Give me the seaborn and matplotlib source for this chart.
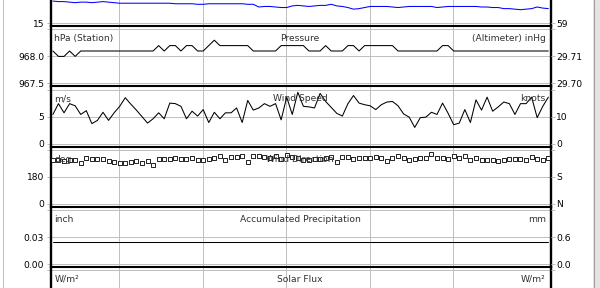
import numpy as np
import pandas as pd
import matplotlib
matplotlib.use("Agg")
import matplotlib.pyplot as plt
import seaborn as sns
from matplotlib.patches import Rectangle
from matplotlib.lines import Line2D

# ---------------- data ----------------
# observation times (hours), 24-minute sampling
obs_hours = np.round(1.25 + 0.4 * np.arange(90), 2)
grid_hours = [6, 12, 18, 24, 30]

temperature_c = [
    19.1, 19.0, 19.0, 18.9, 18.8, 18.9, 18.9, 18.8, 18.9, 19.0,
    18.9, 18.8, 18.7, 18.7, 18.7, 18.7, 18.7, 18.7, 18.7, 18.7,
    18.7, 18.7, 18.6, 18.6, 18.6, 18.6, 18.5, 18.5, 18.6, 18.6,
    18.6, 18.6, 18.6, 18.6, 18.6, 18.5, 18.5, 18.0, 18.1, 18.1,
    18.0, 17.9, 17.9, 18.2, 18.3, 18.2, 18.1, 18.2, 18.3, 18.3,
    18.5, 18.2, 18.1, 17.9, 17.6, 17.7, 17.9, 18.1, 18.1, 18.1,
    18.1, 18.0, 17.9, 18.0, 18.1, 18.1, 18.1, 18.1, 18.1, 17.9,
    18.0, 18.1, 18.1, 18.1, 18.1, 18.1, 18.1, 18.0, 18.0, 17.9,
    17.9, 17.7, 17.7, 17.6, 17.5, 17.6, 17.7, 18.0, 17.8, 17.7]

pressure_hpa = [
    968.1, 968.0, 968.0, 968.1, 968.0, 968.1, 968.1, 968.1, 968.1, 968.1,
    968.1, 968.1, 968.1, 968.1, 968.1, 968.1, 968.1, 968.1, 968.1, 968.2,
    968.1, 968.2, 968.2, 968.1, 968.2, 968.2, 968.1, 968.1, 968.2, 968.3,
    968.2, 968.2, 968.2, 968.2, 968.2, 968.2, 968.1, 968.1, 968.1, 968.1,
    968.1, 968.2, 968.2, 968.2, 968.2, 968.2, 968.1, 968.1, 968.1, 968.2,
    968.1, 968.1, 968.1, 968.2, 968.2, 968.1, 968.2, 968.2, 968.2, 968.2,
    968.2, 968.2, 968.1, 968.1, 968.1, 968.1, 968.1, 968.1, 968.1, 968.1,
    968.2, 968.2, 968.1, 968.1, 968.1, 968.1, 968.1, 968.1, 968.1, 968.1,
    968.1, 968.1, 968.1, 968.1, 968.1, 968.1, 968.1, 968.1, 968.1, 968.1]

wind_speed_ms = [
    5.4, 7.4, 5.7, 7.4, 7.0, 5.4, 6.1, 3.7, 4.3, 5.8,
    4.3, 5.7, 6.9, 8.5, 7.3, 6.2, 5.0, 3.8, 4.6, 5.7,
    4.6, 7.5, 7.4, 6.9, 4.6, 6.0, 5.1, 6.3, 3.9, 5.8,
    4.6, 5.7, 5.7, 6.6, 3.9, 8.0, 6.2, 6.6, 7.4, 6.9,
    7.4, 4.4, 8.6, 5.4, 9.5, 6.9, 6.8, 6.6, 9.3, 7.8,
    6.7, 5.6, 5.1, 7.4, 8.9, 7.5, 7.2, 7.0, 6.3, 7.2,
    7.7, 7.8, 7.0, 5.5, 4.9, 3.0, 4.8, 4.9, 5.8, 5.4,
    7.5, 5.6, 3.5, 3.8, 6.3, 3.9, 8.1, 6.2, 8.6, 6.0,
    6.8, 7.7, 7.4, 5.4, 7.4, 7.4, 8.6, 4.8, 6.9, 8.6]

wind_dir_deg = [
    290, 289, 287, 293, 289, 271, 305, 298, 298, 298,
    287, 280, 275, 275, 282, 287, 275, 287, 260, 298,
    298, 298, 305, 298, 298, 305, 293, 293, 298, 304,
    322, 289, 311, 311, 316, 278, 322, 322, 311, 305,
    316, 298, 327, 311, 304, 293, 293, 298, 298, 304,
    309, 276, 309, 309, 298, 304, 304, 304, 309, 304,
    287, 304, 316, 304, 293, 298, 304, 304, 333, 304,
    304, 300, 320, 304, 320, 289, 304, 293, 293, 293,
    287, 293, 298, 298, 298, 293, 311, 298, 293, 304]

precip_accum_in = [0.024] * 90

# panel definitions: (key, ylo, yhi, left tick labels, right tick labels, left unit, title, right unit)
panels = [
    ("temp", 15, 25, ["15", "", ""], ["59", "", ""], "", "", ""),
    ("pres", 967.5, 968.5, ["967.5", "968.0", ""], ["29.70", "29.71", ""], "hPa (Station)", "Pressure", "(Altimeter) inHg"),
    ("wspd", 0, 10, ["0", "5", ""], ["0", "10", ""], "m/s", "Wind Speed", "knots"),
    ("wdir", 0, 360, ["0", "180", ""], ["N", "S", ""], "deg", "Wind Direction", ""),
    ("prcp", 0.0, 0.06, ["0.00", "0.03", ""], ["0.0", "0.6", ""], "inch", "Accumulated Precipitation", "mm"),
    ("solar", 0, 1000, ["", "", ""], ["", "", ""], "W/m²", "Solar Flux", "W/m²"),
]

df = pd.DataFrame({
    "hours": obs_hours,
    "temp": temperature_c,
    "pres": pressure_hpa,
    "wspd": wind_speed_ms,
    "wdir": wind_dir_deg,
    "prcp": precip_accum_in,
})

# ---------------- styling ----------------
sns.set_style("white")
plt.rcParams["font.family"] = ["DejaVu Sans"]
GRID = "#c0c0c0"
FS = 6.6
P = 0.72  # points per pixel at 100 dpi

W, H = 600, 288
fig = plt.figure(figsize=(6, 2.88), dpi=100)
fig.patch.set_facecolor("white")

AX_L, AX_R = 51, 551
PANEL_H = 60.2
first_top = 26.3 - PANEL_H
MARGIN_PX = 3.1
STEP_PX = 27.0

px_per_hour = 83.5 / 6.0
x_min = 6 - (119 - AX_L) / px_per_hour
x_max = 6 + (AX_R - 119) / px_per_hour

for k, (key, lo, hi, llab, rlab, lunit, title, runit) in enumerate(panels):
    top = first_top + k * PANEL_H
    ax = fig.add_axes([AX_L / W, 1 - (top + PANEL_H) / H, (AX_R - AX_L) / W, PANEL_H / H])
    step = (hi - lo) / 2
    m = step * MARGIN_PX / STEP_PX
    ylim = (lo - m, hi + m)

    if key == "temp":
        sns.lineplot(data=df, x="hours", y="temp", ax=ax, color="#0000ff",
                     linewidth=0.75, estimator=None, sort=False)
    elif key in ("pres", "wspd", "prcp"):
        sns.lineplot(data=df, x="hours", y=key, ax=ax, color="black",
                     linewidth=0.75, estimator=None, sort=False)
    elif key == "wdir":
        sns.scatterplot(data=df, x="hours", y="wdir", ax=ax, marker="s", s=5,
                        color="white", edgecolor="black", linewidth=0.6, zorder=3)

    ax.set_xlim(x_min, x_max)
    ax.set_ylim(*ylim)
    ticks = [lo, lo + step, hi]
    ax.set_yticks(ticks)
    ax.set_yticklabels(llab)
    ax.set_xticks(grid_hours)
    ax.set_xticklabels([])
    ax.set_xlabel("")
    ax.set_ylabel("")
    ax.tick_params(axis="x", length=0)
    ax.tick_params(axis="y", length=4 * P, width=0.72, color=GRID, pad=3 * P,
                   labelsize=FS, labelcolor="black")
    ax.grid(True, color=GRID, linewidth=0.72)
    ax.set_axisbelow(True)
    for s in ("left", "right"):
        ax.spines[s].set_color("black")
        ax.spines[s].set_linewidth(1.7)
    ax.spines["top"].set_color("black")
    ax.spines["top"].set_linewidth(1.5)
    ax.spines["bottom"].set_visible(False)

    ax2 = ax.twinx()
    ax2.set_ylim(*ylim)
    ax2.set_yticks(ticks)
    ax2.set_yticklabels(rlab)
    ax2.tick_params(axis="y", length=4 * P, width=0.72, color=GRID, pad=1 * P,
                    labelsize=FS, labelcolor="black")
    for s in ax2.spines.values():
        s.set_visible(False)

    kw = dict(xycoords="axes fraction", textcoords="offset points", va="baseline",
              fontsize=FS, color="#303030", zorder=5)
    if lunit:
        ax.annotate(lunit, xy=(0, 1), xytext=(3.3 * P, -14.8 * P), ha="left", **kw)
    if title:
        ax.annotate(title, xy=(0.5, 1), xytext=(-1 * P, -14.8 * P), ha="center", **kw)
    if runit:
        ax.annotate(runit, xy=(1, 1), xytext=(-5.3 * P, -14.8 * P), ha="right", **kw)

# window frame decorations
fig.add_artist(Line2D([2.5 / W, 2.5 / W], [0, 1], transform=fig.transFigure,
                      color=GRID, linewidth=0.75))
fig.add_artist(Rectangle((593 / W, 0), 7 / W, 1, transform=fig.transFigure,
                         facecolor="#e4e4e4", edgecolor="none"))
fig.add_artist(Line2D([593.5 / W, 593.5 / W], [0, 1], transform=fig.transFigure,
                      color="#a0a0a0", linewidth=0.75))

fig.savefig("out.png", dpi=100)
